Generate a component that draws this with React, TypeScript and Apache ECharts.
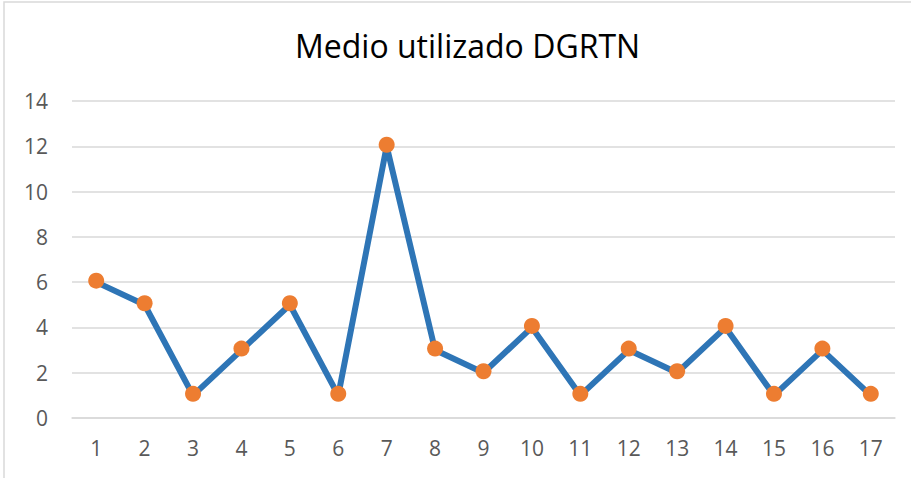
import React, { useEffect, useRef } from "react";
import * as echarts from "echarts";

const categories = ["1","2","3","4","5","6","7","8","9","10","11","12","13","14","15","16","17"];
const values = [6, 5, 1, 3, 5, 1, 12, 3, 2, 4, 1, 3, 2, 4, 1, 3, 1];
const titleText = "Medio utilizado DGRTN";

export default function App() {
  const ref = useRef<HTMLDivElement>(null);
  useEffect(() => {
    document.body.style.margin = "0";
    const chart = echarts.init(ref.current!, null, { renderer: "svg" });
    chart.setOption({
      animation: false,
      backgroundColor: "#ffffff",
      textStyle: { fontFamily: "Open Sans" },
      title: {
        text: titleText,
        left: 290,
        top: 24,
        textStyle: { fontFamily: "Open Sans", fontSize: 32, fontWeight: "normal", color: "#000000" },
      },
      graphic: [
        {
          type: "rect",
          shape: { x: 4, y: 2, width: 1000, height: 600 },
          style: { fill: "none", stroke: "#D9D9D9", lineWidth: 1.5 },
          silent: true,
        },
      ],
      grid: { left: 72, right: 16, top: 101, bottom: 60 },
      xAxis: {
        type: "category",
        data: categories,
        boundaryGap: true,
        axisLine: { show: true, lineStyle: { color: "#D9D9D9", width: 1.5 } },
        axisTick: { show: false },
        axisLabel: { color: "#595959", fontSize: 21, fontFamily: "Open Sans", margin: 19 },
      },
      yAxis: {
        type: "value",
        min: 0,
        max: 14,
        interval: 2,
        axisLine: { show: false },
        axisTick: { show: false },
        splitLine: { lineStyle: { color: "#D9D9D9", width: 1.5 } },
        axisLabel: { color: "#595959", fontSize: 21, fontFamily: "Open Sans", margin: 24 },
      },
      series: [
        {
          type: "line",
          data: values,
          showSymbol: false,
          lineStyle: { color: "#2E75B6", width: 6 },
          itemStyle: { color: "#2E75B6" },
          z: 2,
        },
        {
          type: "line",
          data: values,
          symbol: "circle",
          symbolSize: 16,
          symbolOffset: [0, -1.5],
          lineStyle: { width: 0, opacity: 0 },
          itemStyle: { color: "#ED7D31" },
          z: 3,
        },
      ],
    });
    return () => chart.dispose();
  }, []);
  return <div ref={ref} style={{ width: 911, height: 478 }} />;
}
